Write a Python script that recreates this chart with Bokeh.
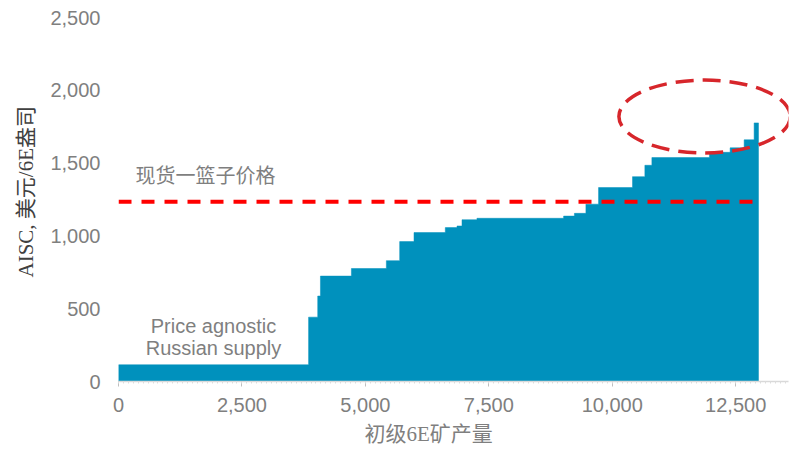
import numpy as np
from bokeh.plotting import figure
from bokeh.models import Range1d, Label, Title, NumeralTickFormatter, FixedTicker
from bokeh.embed import file_html
from bokeh.resources import INLINE

# Primary 6E mine supply ranked by all-in sustaining cost
mine_output = [3850, 185, 55, 627, 708, 270, 290, 634, 237, 101, 303, 1755,
               219, 233, 256, 688, 250, 142, 1166, 419, 284, 202, 88]
mine_aisc = [115, 442, 587, 724, 776, 830, 961, 1023, 1057, 1068, 1111, 1121,
             1136, 1155, 1218, 1332, 1407, 1485, 1538, 1574, 1605, 1660, 1776]
spot_basket_price = 1235
x_ticks = [0, 2500, 5000, 7500, 10000, 12500]
y_ticks = [0, 500, 1000, 1500, 2000, 2500]

right = np.cumsum(mine_output)
left = right - np.array(mine_output)

# outline of the stepped cost curve as one polygon (avoids seams between blocks)
curve_x = np.concatenate([[0], np.column_stack([left, right]).ravel(), [right[-1]]])
curve_y = np.concatenate([[0], np.repeat(mine_aisc, 2), [0]])

BAR = "#0091bd"
GREY = "#7f7f7f"
CJK_SERIF = "'Liberation Serif', 'Noto Sans CJK SC'"

p = figure(width=790, height=458,
           x_range=Range1d(0, 13570), y_range=Range1d(0, 2500),
           output_backend="svg", toolbar_location=None,
           min_border_left=118, min_border_right=2,
           min_border_top=17, min_border_bottom=77)
p.grid.visible = False
p.outline_line_color = None
p.background_fill_color = "white"
p.border_fill_color = "white"

p.patch(x=curve_x, y=curve_y, fill_color=BAR, line_color=BAR, line_width=0.5)

# spot basket price
p.line(x=[0, right[-1]], y=[spot_basket_price, spot_basket_price],
       line_color="#ff0000", line_width=4, line_dash="13 10")

# high-cost tail highlight
p.ellipse(x=[11870], y=[1820], width=[3470], height=[500],
          fill_color=None, line_color="#d7262b", line_width=3.5,
          line_dash="18 9")

# x axis
xa = p.xaxis[0]
xa.ticker = FixedTicker(ticks=x_ticks, minor_ticks=list(range(0, 13600, 100)))
xa.formatter = NumeralTickFormatter(format="0,0")
xa.axis_line_color = "#d9d9d9"
xa.axis_line_width = 1.5
xa.major_tick_line_color = "#bfbfbf"
xa.major_tick_out = 5
xa.major_tick_in = 0
xa.minor_tick_line_color = "#dcdcdc"
xa.minor_tick_out = 2
xa.minor_tick_in = 0
xa.major_label_text_font = "Liberation Sans"
xa.major_label_text_font_size = "20px"
xa.major_label_text_color = GREY
xa.major_label_standoff = 11

# y axis
ya = p.yaxis[0]
ya.ticker = FixedTicker(ticks=y_ticks)
ya.formatter = NumeralTickFormatter(format="0,0")
ya.axis_line_color = None
ya.major_tick_line_color = None
ya.minor_tick_line_color = None
ya.major_tick_out = 0
ya.major_label_text_font = "Liberation Sans"
ya.major_label_text_font_size = "20px"
ya.major_label_text_color = GREY
ya.major_label_standoff = 18

# axis titles
p.add_layout(Title(text="初级6E矿产量", align="left", offset=246,
                   text_font=CJK_SERIF, text_font_size="21px",
                   text_font_style="normal", text_color=GREY, standoff=10),
             "below")
p.add_layout(Title(text="AISC, 美元/6E盎司", align="left", offset=104,
                   text_font=CJK_SERIF, text_font_size="21px",
                   text_font_style="normal", text_color="#404040",
                   text_line_height=1.0, standoff=20),
             "left")

# annotations
p.add_layout(Label(x=344, y=1422, text="现货一篮子价格",
                   text_align="left", text_baseline="middle",
                   text_font="Noto Sans CJK SC", text_font_size="20px",
                   text_color=GREY))
p.add_layout(Label(x=1924, y=378, text="Price agnostic",
                   text_align="center", text_baseline="middle",
                   text_font="Liberation Sans", text_font_size="20px",
                   text_color=GREY))
p.add_layout(Label(x=1924, y=227, text="Russian supply",
                   text_align="center", text_baseline="middle",
                   text_font="Liberation Sans", text_font_size="20px",
                   text_color=GREY))

open("out.html", "w").write(file_html(p, INLINE))
